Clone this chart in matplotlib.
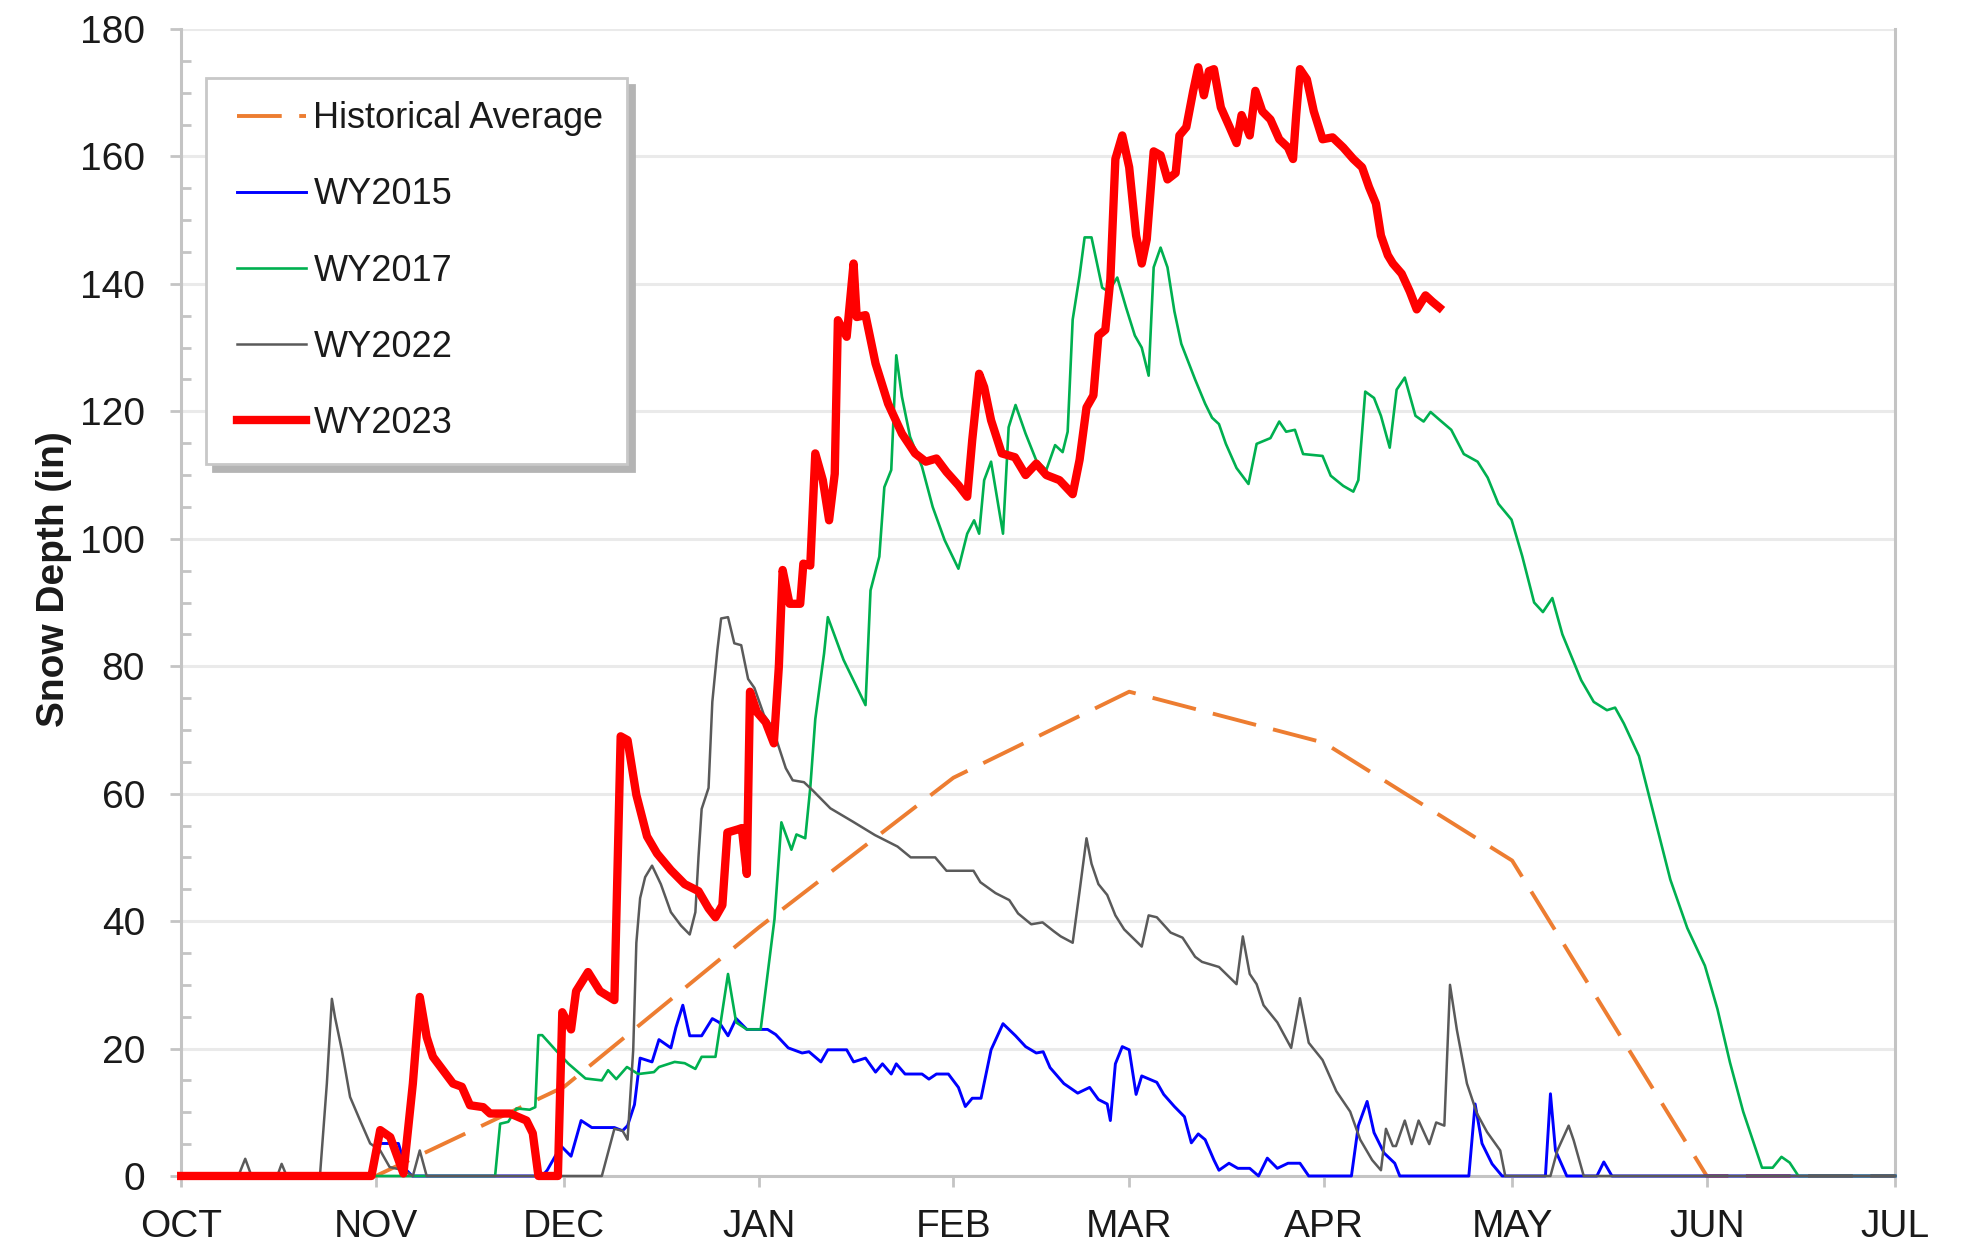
import matplotlib
matplotlib.use("Agg")
import matplotlib.pyplot as plt
from matplotlib.ticker import MultipleLocator
from matplotlib.legend_handler import HandlerLine2D

plt.rcParams['font.family'] = ['Liberation Sans', 'DejaVu Sans']

# x = days since Oct 1 (water year day)
month_days = [0, 31, 61, 92, 123, 151, 182, 212, 243, 273]
month_labels = ['OCT', 'NOV', 'DEC', 'JAN', 'FEB', 'MAR', 'APR', 'MAY', 'JUN', 'JUL']

hist_day = [0, 31, 61, 92, 123, 151, 182, 212, 243, 273]
hist_val = [0, 0, 14, 39, 62.5, 76, 68, 49.5, 0, 0]

wy2015_day = [0, 30.5, 31.1, 34.6, 35.9, 36.8, 57.5, 58.3, 60.5, 62.1, 63.7, 65.4, 69, 70.3, 71.1,
              72.2, 73.1, 75, 76.1, 78, 78.8, 79.9, 81, 82.9, 84.6, 85.7, 87.1, 88.4, 90.1, 93.4,
              94.7, 96.7, 98.9, 100, 101.9, 103, 106, 107.1, 109, 110.6, 111.7, 113.1, 113.9,
              115.3, 118, 119.1, 120.3, 122.2, 123.8, 124.9, 126, 127.4, 129, 130.9, 132.9, 134.5,
              136.2, 137.3, 138.4, 140.6, 142.8, 144.7, 146.1, 147.5, 148, 148.8, 149.9, 151,
              152.1, 153, 155.4, 156.5, 158.2, 159.8, 160.9, 162, 163.1, 164.5, 165.3, 166.9,
              168.3, 170.2, 171.6, 173, 174.6, 176.3, 178.2, 179.6, 186.4, 187.5, 188.9, 190,
              191.6, 193.3, 194.1, 205.1, 206.1, 207.2, 208.8, 210.4, 217.3, 218.1, 218.9, 220.7,
              225.5, 226.6, 227.9, 273]
wy2015_val = [0, 0, 5.1, 5.1, 0.9, 0, 0, 0.9, 4.7, 3.1, 8.7, 7.6, 7.6, 7.1, 7.9,
              11.2, 18.5, 17.9, 21.4, 20.1, 23.3, 26.8, 22, 22, 24.7, 24.1, 22, 24.7, 23, 23,
              22.2, 20.1, 19.3, 19.5, 17.9, 19.8, 19.8, 17.9, 18.5, 16.3, 17.6, 16, 17.6,
              16, 16, 15.2, 16, 16, 13.9, 10.9, 12.2, 12.2, 19.8, 23.9, 22, 20.3,
              19.3, 19.5, 17, 14.5, 13, 13.9, 12, 11.3, 8.7, 17.6, 20.3, 19.8,
              12.8, 15.7, 14.7, 12.8, 10.9, 9.3, 5.2, 6.6, 5.7, 2.5, 0.9, 2,
              1.2, 1.2, 0, 2.8, 1.2, 2, 2, 0, 0, 7.9, 11.7, 6.8,
              3.6, 2, 0, 0, 11.3, 5.1, 1.9, 0, 0, 12.9, 4, 0,
              0, 2.2, 0, 0]

wy2017_day = [0, 50, 50.8, 52.1, 53.4, 55.5, 56.4, 56.9, 57.5, 59.6, 61.7, 64.4, 67, 68, 69.3,
              71, 72.8, 75.3, 76.1, 78.6, 80.2, 81.9, 82.9, 85.1, 87.1, 88.4, 90.1, 92.3, 94.5,
              95.6, 97.2, 98, 99.4, 100.2, 101, 102.4, 103, 105.5, 109, 109.8, 111.2, 112,
              113.1, 113.9, 114.8, 116.1, 118, 119.7, 121.6, 123.8, 125.2, 126.3, 127.1, 127.9,
              129, 130.9, 131.8, 132.9, 134.5, 136.2, 137.8, 139.2, 140.4, 141.2, 142, 143.1,
              143.9, 145, 146.7, 147.7, 149.1, 150.5, 151.9, 153, 154.1, 154.9, 156, 157.1,
              158.2, 159.3, 161.5, 163.1, 164.2, 165.3, 166.4, 168.1, 170, 171.3, 173.5, 174.9,
              176, 177.4, 178.7, 181.8, 183.1, 185.1, 186.7, 187.5, 188.6, 190, 191.1, 192.5,
              193.6, 194.9, 196.6, 197.9, 199, 200.4, 202.3, 204.3, 206.5, 208.1, 209.8, 211.9,
              213.6, 215.5, 216.9, 218.4, 220, 223, 225, 227.1, 228.4, 229.8, 232.2, 234.6,
              237.2, 239.9, 242.7, 244.7, 246.7, 248.8, 251.8, 253.5, 254.9, 256.2, 257.6, 273]
wy2017_val = [0, 0, 8.2, 8.5, 10.6, 10.4, 10.8, 22.1, 22.1, 19.8, 17.6, 15.3, 15, 16.6, 15.2,
              17.1, 16, 16.3, 17.1, 17.9, 17.7, 16.8, 18.7, 18.7, 31.7, 24.1, 23, 23, 40.3,
              55.5, 51.2, 53.6, 53, 60.9, 71.7, 82, 87.7, 81, 73.9, 91.9, 97.2, 108.1,
              110.8, 128.8, 122.3, 116, 111.3, 105, 99.8, 95.3, 100.8, 102.9, 100.8, 109.2,
              112.1, 100.8, 117.5, 121, 116.5, 112.3, 110.8, 114.7, 113.6, 116.8, 134.4, 141.3,
              147.3, 147.3, 139.4, 138.8, 141, 136.3, 131.9, 130, 125.6, 142.6, 145.7, 142.6,
              135.7, 130.6, 125, 121.2, 119, 118, 114.9, 111.1, 108.6, 114.9, 115.8, 118.4,
              116.8, 117.1, 113.3, 113, 109.9, 108.3, 107.4, 109.2, 123.1, 122.1, 119.3, 114.3,
              123.4, 125.3, 119.3, 118.4, 119.9, 118.7, 117.1, 113.3, 112.1, 109.6, 105.5, 103,
              97.3, 90, 88.5, 90.7, 85, 77.8, 74.4, 73.1, 73.5, 71, 65.9, 56.6,
              46.5, 38.9, 33, 26.2, 17.8, 10.1, 1.3, 1.3, 3, 2.1, 0, 0]

wy2022_day = [0, 9.1, 10.2, 11.2, 15.3, 16, 16.8, 22.1, 23.2, 24, 24.5, 25.6, 26.9, 28.5, 30.1,
              31.7, 33.2, 35.4, 36.9, 38, 39.1, 67, 69, 70.3, 71.1, 72, 72.5, 73.1, 73.9, 75,
              76.4, 78, 79.6, 81, 81.9, 82.4, 82.9, 84, 84.6, 85.4, 86, 87.1, 88.1, 89.2, 90.3,
              91.3, 92.8, 93.8, 94.9, 96.3, 97.4, 99.2, 100.6, 103.4, 107, 110.5, 114.1, 116.2,
              120.1, 121.9, 126.2, 127.3, 129.7, 131.9, 133.3, 135.4, 137.2, 139, 140.1, 142,
              143.1, 144.2, 145, 146.1, 147.5, 148.8, 150.2, 153, 154.1, 155.4, 157.6, 159.5,
              161.5, 162.6, 165.3, 168.1, 169.1, 170.2, 171.3, 172.4, 174.6, 176.8, 178.2,
              179.6, 181.8, 184, 186.2, 187.8, 189.7, 191.1, 191.9, 193, 193.5, 194.9, 196,
              197.1, 198.8, 199.9, 201.2, 202.1, 203.2, 204.8, 206.4, 208, 210.1, 210.9, 218.1,
              219.2, 221, 221.8, 223.4, 273]
wy2022_val = [0, 0, 2.7, 0, 0, 1.9, 0, 0, 14.5, 27.8, 24.9, 19.7, 12.4, 8.7, 5.1,
              4, 1.4, 0.9, 0, 4, 0, 0, 7.4, 7.1, 5.7, 19.8, 36.6, 43.6, 46.9, 48.7,
              45.8, 41.4, 39.3, 37.9, 41.4, 50.1, 57.6, 60.9, 74.4, 82.5, 87.5, 87.7, 83.6, 83.3, 78,
              76.6, 72.4, 71, 68.2, 64, 62.1, 61.8, 60.5, 57.7, 55.6, 53.5, 51.7, 50,
              50, 47.9, 47.9, 46.1, 44.4, 43.3, 41.2, 39.5, 39.8, 38.4, 37.6, 36.6,
              44.7, 53, 49, 45.8, 44.1, 40.9, 38.7, 36, 40.9, 40.6, 38.2, 37.4,
              34.4, 33.6, 32.8, 30.1, 37.6, 31.7, 30.1, 26.8, 24.1, 20.1, 27.9,
              20.9, 18.2, 13.3, 10.1, 5.7, 2.5, 0.9, 7.4, 4.7, 4.7, 8.7, 5,
              8.7, 5, 8.4, 7.9, 30, 22.9, 14.5, 9.8, 6.9, 4, 0, 0,
              4, 7.9, 5.6, 0, 0]

wy2023_day = [0, 30.3, 31.7, 33.3, 35.4, 36.9, 38, 39.1, 40.1, 41.7, 43.3, 44.7, 46, 48.1, 49.2,
              52.4, 55, 56, 56.9, 60, 60.7, 62.1, 62.9, 64.8, 66.7, 69, 70, 71.1, 72.5, 74.2,
              75.8, 78, 80.2, 82.4, 84, 85.1, 86.2, 87, 88.7, 89.3, 90.1, 90.6, 91.7, 93.1, 94.4,
              95.2, 95.8, 96.9, 98.6, 99.1, 100.2, 101, 102.2, 103.2, 104.1, 104.6, 106, 107.1,
              107.6, 109, 110.6, 112.6, 114.8, 116.9, 118.6, 120.3, 121.9, 123.8, 125.2, 126,
              127.1, 127.9, 129, 130.7, 132.8, 134.5, 136.2, 137.8, 139.9, 142, 143.1, 144.2,
              145.3, 146.1, 147.2, 148, 148.8, 149.9, 151, 152.1, 153, 153.8, 154.9, 156, 157.1,
              158.4, 159, 160.1, 161.2, 162, 162.9, 163.7, 164.5, 165.6, 167, 168.1, 168.9,
              170.2, 171.1, 172.2, 173.5, 174.9, 176.3, 177.1, 177.6, 178.2, 179.3, 180.4, 181.8,
              183.4, 185.1, 186.7, 188.1, 189.2, 190.3, 191.1, 192.2, 193, 194.4, 195.7, 196.8,
              198.2, 199.3, 200.4]
wy2023_val = [0, 0, 7.2, 6.1, 0.4, 14.5, 28.1, 21.8, 18.7, 16.6, 14.5, 14, 11.1, 10.8, 9.8,
              9.8, 8.7, 6.7, 0, 0, 25.7, 23, 29, 32, 29, 27.6, 69, 68.4, 59.8, 53.3,
              50.6, 48, 45.8, 44.7, 42, 40.6, 42.5, 53.9, 54.4, 54.6, 47.4, 76, 72.8, 71.2, 67.9,
              80, 95.1, 89.8, 89.8, 96.1, 95.8, 113.4, 109.2, 102.9, 110.2, 134.3, 131.7, 143.2,
              134.8, 135.1, 127.5, 121.2, 116.5, 113.4, 112.1, 112.6, 110.5, 108.4, 106.6, 115.5,
              125.9, 123.8, 118.6, 113.4, 112.8, 110, 111.8, 110, 109.2, 107, 112.4, 120.6,
              122.5, 131.9, 132.8, 140.7, 159.6, 163.3, 158.3, 147.6, 143.2, 147, 160.8, 160.2, 156.4,
              157.4, 163.3, 164.6, 170.3, 174, 169.6, 173.4, 173.7, 167.7, 164.6, 162.1, 166.5,
              163.3, 170.3, 167.1, 165.8, 162.7, 161.4, 159.6, 166.5, 173.7, 172.1, 167.1, 162.7,
              163, 161.4, 159.6, 158.3, 155.2, 152.6, 147.6, 144.5, 143.2, 141.6, 138.8, 136,
              138.2, 137.2, 136.3]

fig = plt.figure(figsize=(19.61, 12.46), dpi=100)
ax = fig.add_axes([0.0924, 0.0562, 0.874, 0.9205])

ax.plot(hist_day, hist_val, color='#ED7D31', lw=2.8, dashes=(11.5, 4.5),
        label='Historical Average', zorder=3, clip_on=False)
ax.plot(wy2015_day, wy2015_val, color='#0000FF', lw=2.1, label='WY2015', zorder=3, clip_on=False)
ax.plot(wy2017_day, wy2017_val, color='#00B050', lw=1.9, label='WY2017', zorder=3, clip_on=False)
ax.plot(wy2022_day, wy2022_val, color='#5A5A5A', lw=1.8, label='WY2022', zorder=3, clip_on=False)
ax.plot(wy2023_day, wy2023_val, color='#FF0000', lw=6, label='WY2023', zorder=3, clip_on=False)

ax.set_xlim(0, 273)
ax.set_ylim(0, 180)
ax.set_xticks(month_days)
ax.set_xticklabels(month_labels)
ax.yaxis.set_major_locator(MultipleLocator(20))
ax.yaxis.set_minor_locator(MultipleLocator(5))

ax.grid(axis='y', which='major', color='#EAEAEA', lw=2.2, zorder=0)
ax.set_axisbelow(True)

for side in ['left', 'bottom', 'right']:
    ax.spines[side].set_color('#C4C4C4')
    ax.spines[side].set_linewidth(2.2)
ax.spines['top'].set_visible(False)

ax.tick_params(axis='both', which='major', labelsize=28, colors='#C4C4C4',
               labelcolor='#1A1A1A', width=2, length=8, direction='out')
ax.tick_params(axis='y', which='major', pad=18)
ax.tick_params(axis='x', which='major', pad=16)
ax.tick_params(axis='y', which='minor', colors='#C4C4C4', width=2, length=7, direction='in')

ax.set_ylabel('Snow Depth (in)', fontsize=28, fontweight='bold', color='#1A1A1A')
ax.yaxis.set_label_coords(-0.0636, 0.52)

# legend: extra left room before each handle
pad_handler = HandlerLine2D(xpad=0.22)
leg = ax.legend(loc='upper left', bbox_to_anchor=(0.0146, 0.957), borderaxespad=0,
                fontsize=26, frameon=True, fancybox=False, framealpha=1,
                edgecolor='#C8C8C8', handlelength=2.13, handletextpad=0.2,
                borderpad=0.64, labelspacing=1.136,
                handler_map={l: pad_handler for l in ax.get_lines()},
                shadow={'ox': 5, 'oy': -5, 'color': '#B4B4B4', 'alpha': 1})
leg.get_frame().set_linewidth(2)
for t in leg.get_texts():
    t.set_color('#1A1A1A')

fig.savefig('out.png', dpi=100)
